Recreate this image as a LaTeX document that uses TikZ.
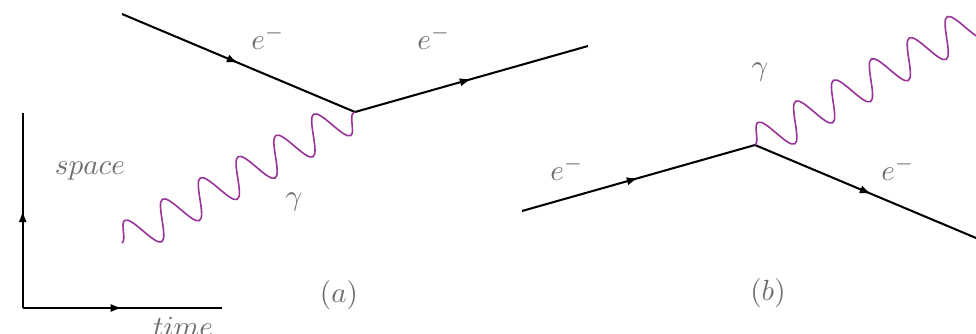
\documentclass[tikz,border=0pt]{standalone}
\usetikzlibrary{arrows.meta,decorations.markings,decorations.pathmorphing}
\definecolor{photonc}{RGB}{153,51,153}
\definecolor{labelc}{RGB}{110,110,110}
\begin{document}
\begin{tikzpicture}[x=0.3425pt,y=0.3425pt,
  fermion/.style={line width=0.7pt,black,postaction={decorate},
    decoration={markings,mark=at position 0.5 with {\arrow{Latex[length=4pt,width=2.8pt]}}}},
  photon/.style={line width=0.55pt,photonc,decorate,
    decoration={snake,segment length=14.85pt,amplitude=6.3pt}},
  lab/.style={text=labelc,inner sep=0pt}]
\useasboundingbox (0,0) rectangle (976,333);
\clip (0,0) rectangle (976,333);
% axes
\coordinate (O) at (22.7,25);
\coordinate (Ytop) at (22.7,220);
\coordinate (Xend) at (221.7,25);
\draw[fermion] (O) -- (Ytop);
\draw[fermion] (O) -- (Xend);
\node[lab,anchor=base] (sp) at (90,159) {$space$};
\node[lab,anchor=base] (tm) at (183,-3) {$time$};
% diagram (a)
\coordinate (a1) at (122,319);
\coordinate (va) at (355,221);
\coordinate (a2) at (588,287);
\coordinate (ga) at (122,90);
\draw[fermion] (a1) -- (va);
\draw[fermion] (va) -- (a2);
\draw[photon] (ga) -- (va);
\node[lab,anchor=base] (ea1) at (268,284) {$e^-$};
\node[lab,anchor=base] (ea2) at (434,284) {$e^-$};
\node[lab] (gla) at (294,131) {$\gamma$};
\node[lab] (capa) at (339,38) {$(a)$};
% diagram (b)
\coordinate (b1) at (522,122);
\coordinate (vb) at (755,188);
\coordinate (b2) at (988,90);
\coordinate (gb) at (988,318);
\draw[fermion] (b1) -- (vb);
\draw[fermion] (vb) -- (b2);
\draw[photon] (vb) -- (gb);
\node[lab,anchor=base] (eb1) at (567,153) {$e^-$};
\node[lab,anchor=base] (eb2) at (898,153) {$e^-$};
\node[lab] (glb) at (760,261) {$\gamma$};
\node[lab] (capb) at (768,40) {$(b)$};
\end{tikzpicture}
\end{document}
